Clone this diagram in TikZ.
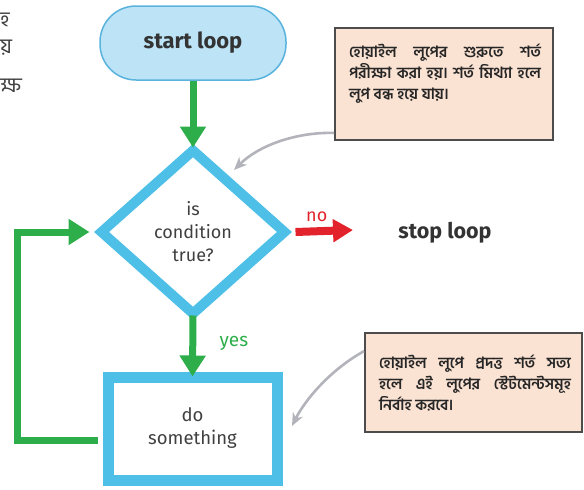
\documentclass[tikz,border=0pt]{standalone}
\usepackage{fontspec}
\setmainfont{Fira Sans}
\newfontfamily\bnfont[Script=Bengali]{Hind Siliguri}
\usepackage{xcolor}
\usetikzlibrary{arrows.meta,shapes.geometric}

\definecolor{flowblue}{HTML}{4EBFE6}
\definecolor{capfill}{HTML}{BCE3F6}
\definecolor{capline}{HTML}{5AB3DD}
\definecolor{flowgreen}{HTML}{2DAE4A}
\definecolor{flowred}{HTML}{E2232B}
\definecolor{notefill}{HTML}{FBE3D3}
\definecolor{notegray}{HTML}{B3B3BB}

\begin{document}
\begin{tikzpicture}[x=1pt,y=-1pt,
    green arrow/.style={draw=flowgreen,line width=7pt,-{Triangle[length=21pt,width=25pt]}},
    gray arrow/.style={draw=notegray,line width=2.6pt,-{Stealth[length=13pt,width=11pt]}},
    edge letter/.style={anchor=west,inner sep=0pt,font=\bnfont\fontsize{21}{21}\selectfont,text=black!75},
    notebox/.style={draw=black!70,line width=1.8pt,fill=notefill,inner sep=0pt},
    notetext/.style={inner sep=0pt,text width=192pt,align=justify,text=black!85,
      font=\bnfont\bfseries\fontsize{15.5}{21}\selectfont}]
  \useasboundingbox (0,0) rectangle (584,490);

  % cut-off letters at the left edge
  \node[edge letter] (edgea) at (0,20) {হ};
  \node[edge letter] (edgeb) at (0,48) {য়};
  \node[edge letter] (edgec) at (0,86) {ক্ষ};

  \node[draw=capline,line width=1.5pt,fill=capfill,rounded corners=36pt,
    minimum width=186pt,minimum height=74pt,font=\bfseries\fontsize{22}{22}\selectfont,
    text=black!80] (start) at (193,43) {start loop};

  \node[diamond,draw=flowblue,line width=10pt,inner sep=0pt,
    minimum width=187pt,minimum height=167pt,align=center,
    font=\fontsize{18}{23}\selectfont,text=black!75] (cond) at (193,232) {is\\condition\\true?};

  \node[draw=flowblue,line width=11pt,minimum width=169pt,minimum height=103pt,
    align=center,font=\fontsize{18.5}{23}\selectfont,text=black!75] (body) at (192.5,428.5) {do\\something};

  \node[font=\bfseries\fontsize{21.5}{21.5}\selectfont,text=black!80] (stop) at (445,233) {stop loop};

  \draw[green arrow] (start.south) -- ([yshift=-4pt]cond.north);
  \draw[green arrow] ([yshift=5pt]cond.south) -- ([yshift=-5pt]body.north)
    node[pos=0.45,right=20pt,text=flowgreen,font=\fontsize{19}{19}\selectfont] (yes) {yes};
  \coordinate (loopb) at (17,232);
  \draw[green arrow] ([xshift=-5pt,yshift=-12pt]body.west) -| (loopb) -- ([xshift=-5pt]cond.west);

  \coordinate (nohead) at (353,230);
  \draw[draw=flowred,line width=8pt,-{Triangle[length=20pt,width=22pt]}]
    ([xshift=4pt]cond.east) -- (nohead)
    node[pos=0.37,above=2pt,text=flowred,font=\fontsize{18}{18}\selectfont] (no) {no};

  \node[notebox,minimum width=218pt,minimum height=112pt] (notea) at (444,84) {};
  \node[notetext] (noteatext) at (445,74)
    {হোয়াইল লুপের শুরুতে শর্ত\linebreak
     পরীক্ষা করা হয়। শর্ত মিথ্যা হলে\linebreak
     লুপ বন্ধ হয়ে যায়।};
  \node[notebox,minimum width=217pt,minimum height=99pt] (noteb) at (473.5,382.5) {};
  \node[notetext] (notebtext) at (475,383)
    {হোয়াইল লুপে প্রদত্ত শর্ত সত্য\linebreak
     হলে এই লুপের স্টেটমেন্টসমূহ\linebreak
     নির্বাহ করবে।};

  \coordinate (tipa) at (234,170);
  \coordinate (tipb) at (292,426);
  \draw[gray arrow] ([yshift=8pt]notea.south west) .. controls (295,132) and (258,146) .. (tipa);
  \draw[gray arrow] ([yshift=-19pt]noteb.north west) .. controls (330,370) and (305,400) .. (tipb);
\end{tikzpicture}
\end{document}
